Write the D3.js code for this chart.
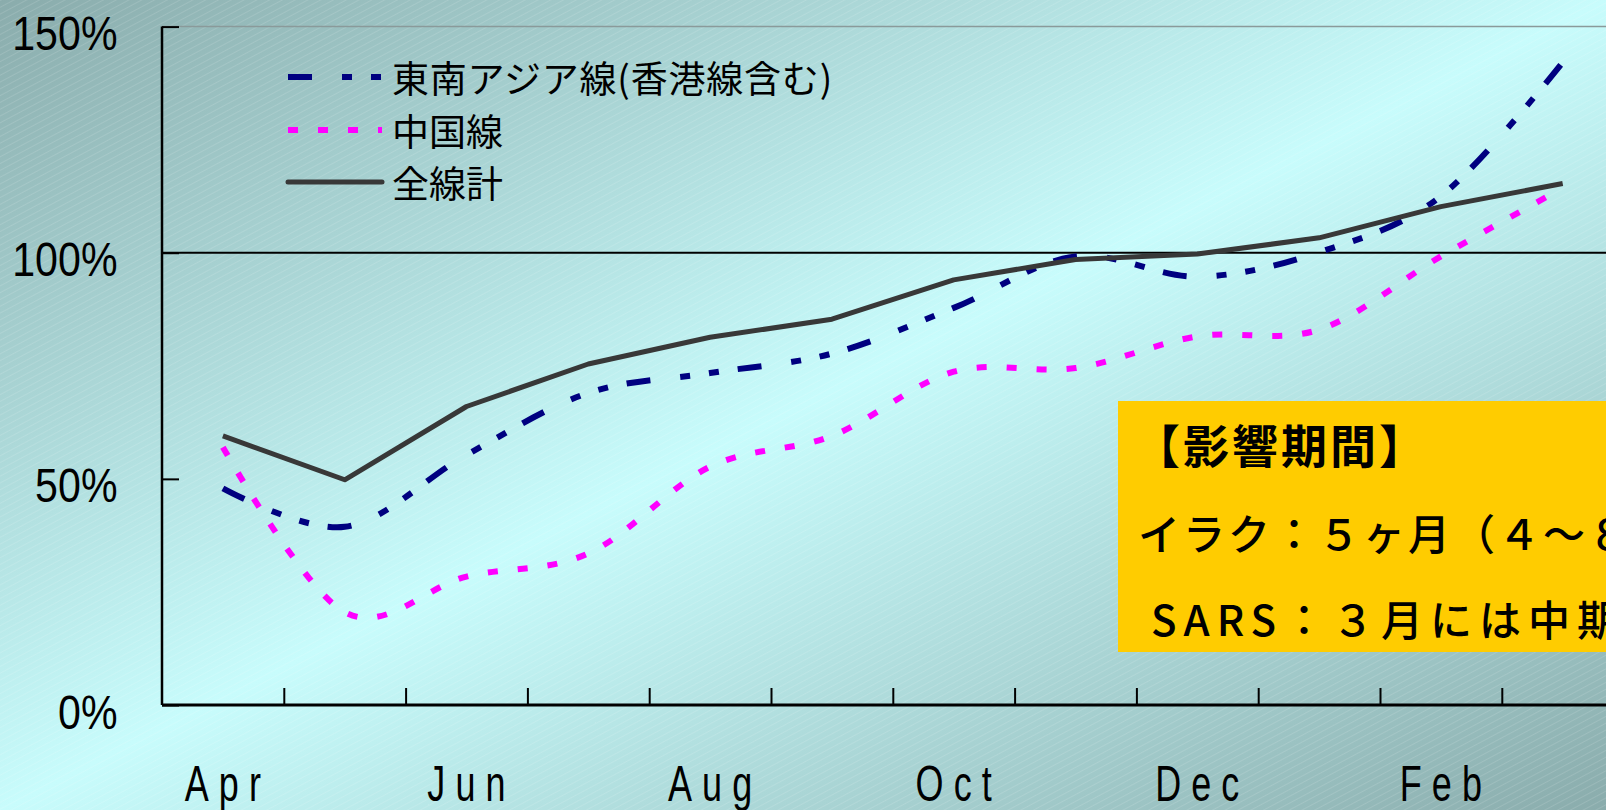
<!DOCTYPE html>
<html>
<head>
<meta charset="utf-8">
<script src="https://cdn.jsdelivr.net/npm/d3@7"></script>
<style>
html, body { margin: 0; padding: 0; overflow: hidden; background: #c8fcfc; }
svg { display: block; }
</style>
</head>
<body>
<div id="chart"></div>
<script>
var months = ["Apr", "May", "Jun", "Jul", "Aug", "Sep", "Oct", "Nov", "Dec", "Jan", "Feb", "Mar"];
var seAsia = [47.9, 39.4, 55.3, 69.0, 73.4, 77.7, 87.8, 99.2, 94.7, 100.1, 112.5, 142.1];
var china = [57.0, 20.5, 28.4, 33.5, 52.7, 59.5, 73.7, 74.5, 81.5, 83.0, 99.2, 114.3];
var total = [59.5, 49.8, 66.0, 75.4, 81.3, 85.3, 94.0, 98.5, 99.7, 103.3, 110.2, 115.3];
var yTicks = [0, 50, 100, 150];
var seriesNames = ["東南アジア線(香港線含む)", "中国線", "全線計"];
var noteLines = ["【影響期間】", "イラク：５ヶ月（４～８", "SARS：３月には中期"];

var width = 1606,
    height = 810;

var svg = d3.select("#chart").append("svg")
    .attr("width", width)
    .attr("height", height);

var defs = svg.append("defs");

var grad = defs.append("linearGradient")
    .attr("id", "bg")
    .attr("x1", 0).attr("y1", 0).attr("x2", 1).attr("y2", 1);
grad.append("stop").attr("offset", 0).attr("stop-color", "#8aacac");
grad.append("stop").attr("offset", 0.5).attr("stop-color", "#c8fcfc");
grad.append("stop").attr("offset", 1).attr("stop-color", "#8aacac");

var hatch = defs.append("pattern")
    .attr("id", "hatch")
    .attr("patternUnits", "userSpaceOnUse")
    .attr("width", 6).attr("height", 6)
    .attr("patternTransform", "rotate(-28)");
hatch.append("line")
    .attr("x1", 0).attr("y1", 0).attr("x2", 6).attr("y2", 0)
    .attr("stroke", "#ffffff")
    .attr("stroke-opacity", 0.25)
    .attr("stroke-width", 1);

svg.append("rect").attr("width", width).attr("height", height).attr("fill", "url(#bg)");
svg.append("rect").attr("width", width).attr("height", height).attr("fill", "url(#hatch)");

// plot area runs past the right edge of the picture
var x = d3.scaleLinear().domain([0, 12]).range([162, 162 + 12 * 121.8]);
var y = d3.scaleLinear().domain([0, 150]).range([705, 26.6]);

// top border of the plot area
svg.append("line")
    .attr("x1", x(0)).attr("x2", width)
    .attr("y1", y(150)).attr("y2", y(150))
    .attr("stroke", "#8a9a9a").attr("stroke-width", 1.5);

// 100% reference line
svg.append("line")
    .attr("x1", x(0)).attr("x2", width)
    .attr("y1", y(100)).attr("y2", y(100))
    .attr("stroke", "#000").attr("stroke-width", 2);

// highlighted note box
var note = svg.append("g")
    .style("font-family", "'Noto Sans CJK JP', sans-serif");
note.append("rect")
    .attr("x", 1118).attr("y", 401)
    .attr("width", width - 1118).attr("height", 251)
    .attr("fill", "#ffcc00");
note.append("text")
    .attr("x", 1134).attr("y", 443)
    .attr("dominant-baseline", "central")
    .style("font-size", "46px")
    .style("font-weight", "bold")
    .style("letter-spacing", "3px")
    .text(noteLines[0]);
note.append("text")
    .attr("x", 1138).attr("y", 531)
    .attr("dominant-baseline", "central")
    .style("font-size", "42px")
    .style("font-weight", 500)
    .style("letter-spacing", "3px")
    .text(noteLines[1]);
note.append("text")
    .attr("x", 1151).attr("y", 617)
    .attr("dominant-baseline", "central")
    .style("font-size", "42px")
    .style("font-weight", 500)
    .style("letter-spacing", "7px")
    .text(noteLines[2]);

// axes
var yAxis = d3.axisLeft(y)
    .tickValues(yTicks)
    .tickSize(-17)
    .tickFormat("");
svg.append("g")
    .attr("transform", "translate(" + x(0) + ",0)")
    .call(yAxis)
    .call(function(g) {
        g.select(".domain").attr("stroke-width", 2.5).attr("d", "M0," + y(0) + "V" + y(150));
        g.selectAll(".tick line").attr("stroke-width", 2);
    });

svg.append("g").selectAll("text")
    .data(yTicks)
    .enter().append("text")
    .attr("transform", function(d) { return "translate(117.5," + (y(d) + 23.6) + ") scale(0.84,1)"; })
    .attr("text-anchor", "end")
    .style("font-family", "'Liberation Sans', Arial, sans-serif")
    .style("font-size", "49px")
    .text(function(d) { return d + "%"; });

var xAxis = d3.axisBottom(x)
    .tickValues(d3.range(1, 13))
    .tickSize(-17)
    .tickFormat("");
svg.append("g")
    .attr("transform", "translate(0," + y(0) + ")")
    .call(xAxis)
    .call(function(g) {
        g.select(".domain").attr("stroke-width", 3).attr("d", "M" + x(0) + ",0H" + x(12));
        g.selectAll(".tick line").attr("stroke-width", 2);
    });

svg.append("g").selectAll("text")
    .data(months.filter(function(d, i) { return i % 2 == 0; }))
    .enter().append("text")
    .attr("transform", function(d) {
        var i = months.indexOf(d);
        return "translate(" + (x(i + 0.5) + 5) + ",801) scale(0.72,1)";
    })
    .attr("text-anchor", "middle")
    .style("font-family", "'Liberation Sans', Arial, sans-serif")
    .style("font-size", "50px")
    .style("letter-spacing", "14px")
    .text(function(d) { return d; });

// lines
var smooth = d3.line()
    .x(function(d, i) { return x(i + 0.5); })
    .y(function(d) { return y(d); })
    .curve(d3.curveCardinal.tension(0));
var straight = d3.line()
    .x(function(d, i) { return x(i + 0.5); })
    .y(function(d) { return y(d); });

var styles = [
    { data: seAsia, line: smooth, color: "#000080", w: 6, dash: "24,30,10,19,10,19" },
    { data: china, line: smooth, color: "#ff00ff", w: 6, dash: "10,20" },
    { data: total, line: straight, color: "#383838", w: 5, dash: null }
];

styles.forEach(function(s) {
    svg.append("path")
        .attr("d", s.line(s.data))
        .attr("fill", "none")
        .attr("stroke", s.color)
        .attr("stroke-width", s.w)
        .attr("stroke-dasharray", s.dash)
        .attr("stroke-linejoin", "round");
});

// legend
var legend = svg.append("g");
var legendY = [77, 130, 182];
styles.forEach(function(s, i) {
    legend.append("line")
        .attr("x1", 288).attr("x2", 382)
        .attr("y1", legendY[i]).attr("y2", legendY[i])
        .attr("stroke", s.color)
        .attr("stroke-width", s.w)
        .attr("stroke-dasharray", s.dash)
        .attr("stroke-linecap", s.dash ? "butt" : "round");
    legend.append("text")
        .attr("x", 392).attr("y", legendY[i])
        .attr("dominant-baseline", "central")
        .style("font-family", "'Noto Sans CJK JP', sans-serif")
        .style("font-size", "37px")
        .style("letter-spacing", i == 0 ? "0.8px" : "0px")
        .text(seriesNames[i]);
});
</script>
</body>
</html>
